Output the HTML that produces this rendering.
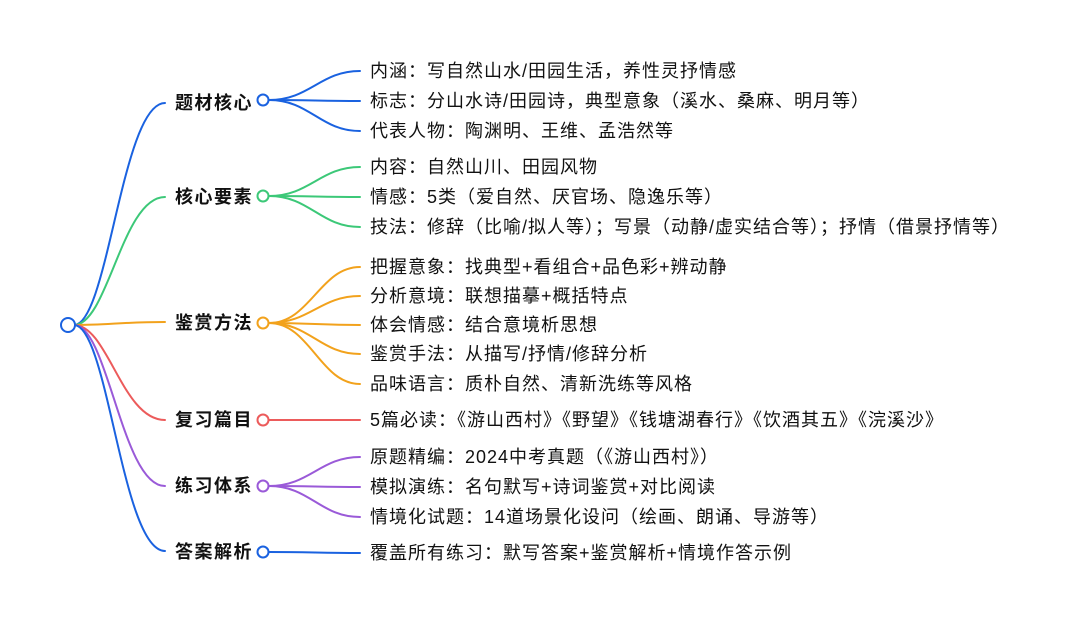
<!DOCTYPE html>
<html><head><meta charset="utf-8"><style>
body{margin:0;background:#fff;width:1080px;height:622px;overflow:hidden}
svg text{font-family:"Liberation Sans","Noto Sans CJK SC",sans-serif}
.b{font-size:18px;font-weight:bold;fill:#111;letter-spacing:1.5px}
.l{font-size:18px;fill:#111;letter-spacing:1px}
</style></head><body>
<svg width="1080" height="622" xmlns="http://www.w3.org/2000/svg" fill="none" stroke-width="2">
<g stroke-linecap="round">
<path d="M74,325 C108,325 122,103 165,103" stroke="#1a62e0"/>
<path d="M74,325 C108,325 122,197 165,197" stroke="#3cc878"/>
<path d="M74,325 C108,325 122,322 165,322" stroke="#f2a21c"/>
<path d="M74,325 C108,325 122,420 165,420" stroke="#ec5b5b"/>
<path d="M74,325 C108,325 122,486 165,486" stroke="#9a5ad8"/>
<path d="M74,325 C108,325 122,551 165,551" stroke="#1a62e0"/>

<g stroke="#1a62e0"><path d="M269,100 C310,100 320,71 360,71"/><path d="M269,100 C310,100 320,101 360,101"/><path d="M269,100 C310,100 320,131 360,131"/></g>
<g stroke="#3cc878"><path d="M269,196 C310,196 320,167 360,167"/><path d="M269,196 C310,196 320,197 360,197"/><path d="M269,196 C310,196 320,227 360,227"/></g>
<g stroke="#f2a21c"><path d="M269,323 C310,323 320,267 360,267"/><path d="M269,323 C310,323 320,296 360,296"/><path d="M269,323 C310,323 320,325 360,325"/><path d="M269,323 C310,323 320,354 360,354"/><path d="M269,323 C310,323 320,384 360,384"/></g>
<g stroke="#ec5b5b"><path d="M269,420 C310,420 320,420 360,420"/></g>
<g stroke="#9a5ad8"><path d="M269,486 C310,486 320,457 360,457"/><path d="M269,486 C310,486 320,487 360,487"/><path d="M269,486 C310,486 320,517 360,517"/></g>
<g stroke="#1a62e0"><path d="M269,552 C310,552 320,553 360,553"/></g>
</g>
<circle cx="68" cy="325" r="7" stroke="#1a62e0" fill="#fff"/>
<circle cx="263" cy="100" r="5.5" stroke="#1a62e0" fill="#fff"/>
<circle cx="263" cy="196" r="5.5" stroke="#3cc878" fill="#fff"/>
<circle cx="263" cy="323" r="5.5" stroke="#f2a21c" fill="#fff"/>
<circle cx="263" cy="420" r="5.5" stroke="#ec5b5b" fill="#fff"/>
<circle cx="263" cy="486" r="5.5" stroke="#9a5ad8" fill="#fff"/>
<circle cx="263" cy="552" r="5.5" stroke="#1a62e0" fill="#fff"/>
<g class="b" stroke="none">
<text x="175" y="109">题材核心</text>
<text x="175" y="203">核心要素</text>
<text x="175" y="329">鉴赏方法</text>
<text x="175" y="426">复习篇目</text>
<text x="175" y="492">练习体系</text>
<text x="175" y="558">答案解析</text>
</g>
<g class="l" stroke="none">
<text x="370" y="77">内涵：写自然山水/田园生活，养性灵抒情感</text>
<text x="370" y="107">标志：分山水诗/田园诗，典型意象（溪水、桑麻、明月等）</text>
<text x="370" y="137">代表人物：陶渊明、王维、孟浩然等</text>
<text x="370" y="173">内容：自然山川、田园风物</text>
<text x="370" y="203">情感：5类（爱自然、厌官场、隐逸乐等）</text>
<text x="370" y="233">技法：修辞（比喻/拟人等）；写景（动静/虚实结合等）；抒情（借景抒情等）</text>
<text x="370" y="273">把握意象：找典型+看组合+品色彩+辨动静</text>
<text x="370" y="302">分析意境：联想描摹+概括特点</text>
<text x="370" y="331">体会情感：结合意境析思想</text>
<text x="370" y="360">鉴赏手法：从描写/抒情/修辞分析</text>
<text x="370" y="390">品味语言：质朴自然、清新洗练等风格</text>
<text x="370" y="426">5篇必读：《游山西村》《野望》《钱塘湖春行》《饮酒其五》《浣溪沙》</text>
<text x="370" y="463">原题精编：2024中考真题（《游山西村》）</text>
<text x="370" y="493">模拟演练：名句默写+诗词鉴赏+对比阅读</text>
<text x="370" y="523">情境化试题：14道场景化设问（绘画、朗诵、导游等）</text>
<text x="370" y="559">覆盖所有练习：默写答案+鉴赏解析+情境作答示例</text>
</g>
</svg>
</body></html>
